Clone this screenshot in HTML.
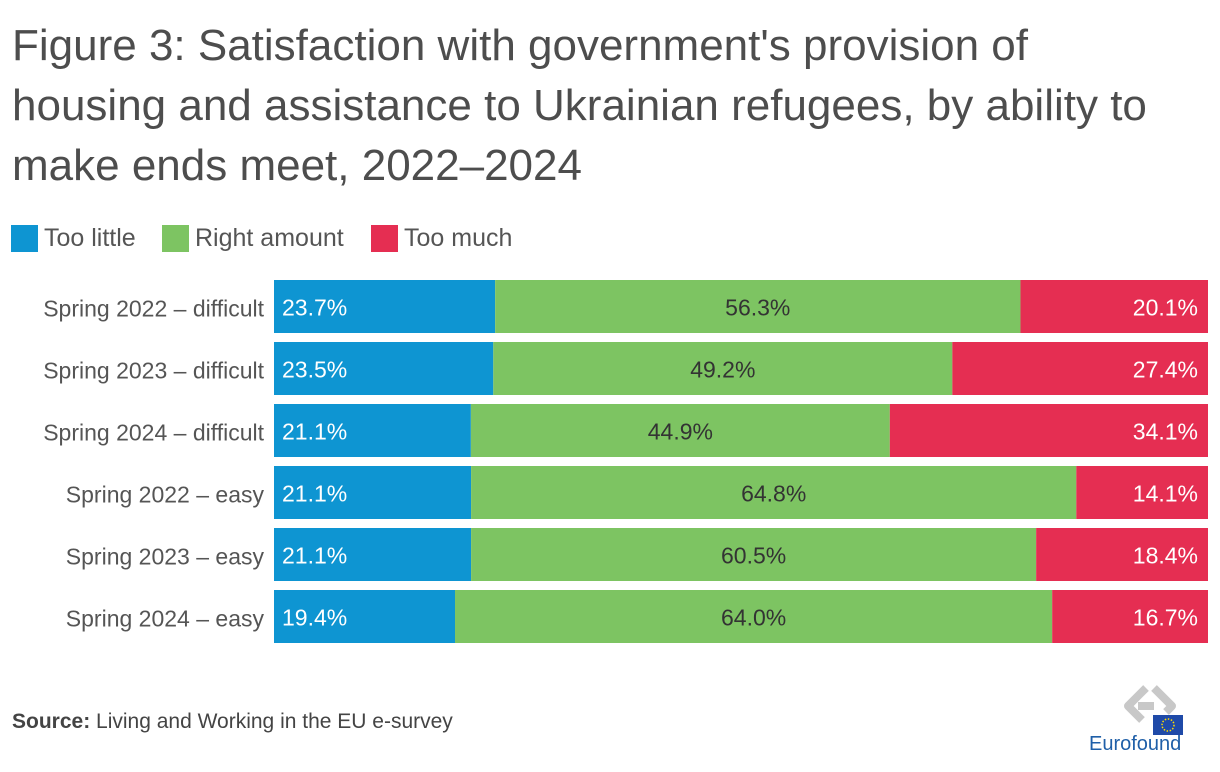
<!DOCTYPE html>
<html><head><meta charset="utf-8"><style>
body{margin:0;width:1220px;height:772px;background:#fff;font-family:"Liberation Sans",sans-serif;overflow:hidden;position:relative}
#title{position:absolute;left:12px;top:16px;font-size:44px;line-height:60px;color:#4d4d4d;letter-spacing:0px;white-space:nowrap}
.leg{position:absolute;top:224px;font-size:25px;color:#555;display:flex;align-items:center}
.leg i{display:inline-block;width:27px;height:27px;margin-right:6px}
#source{position:absolute;left:12px;top:710px;font-size:21px;color:#444}
</style></head><body>
<div id="title">Figure 3: Satisfaction with government's provision of<br>housing and assistance to Ukrainian refugees, by ability to<br>make ends meet, 2022–2024</div>
<div class="leg" style="left:11px"><i style="background:#0e95d2"></i>Too little</div>
<div class="leg" style="left:162px"><i style="background:#7dc462"></i>Right amount</div>
<div class="leg" style="left:371px"><i style="background:#e52e52"></i>Too much</div>
<svg id="chart" width="1220" height="772" style="position:absolute;left:0;top:0"></svg>
<div id="source"><b>Source:</b> Living and Working in the EU e-survey</div>
<svg style="position:absolute;left:1080px;top:680px" width="140" height="92">
<g fill="none" stroke="#c8c8c8" stroke-width="8" stroke-linejoin="round"><path d="M66 8 L48 26 L62 40"/><path d="M74 8 L92 26 L86 32"/><path d="M58 26 L74 26"/></g>
<rect x="73" y="35" width="30" height="20" fill="#1f4aa8"/><circle cx="88" cy="45" r="6" fill="none" stroke="#ffdd00" stroke-width="1.5" stroke-dasharray="1.5 1.6"/>
<text x="9" y="70" font-size="20" fill="#1f5fa8" font-family="Liberation Sans,sans-serif">Eurofound</text></svg>
<script>
const categories=["Spring 2022 – difficult","Spring 2023 – difficult","Spring 2024 – difficult","Spring 2022 – easy","Spring 2023 – easy","Spring 2024 – easy"];
const tooLittle=[23.7,23.5,21.1,21.1,21.1,19.4];
const rightAmount=[56.3,49.2,44.9,64.8,60.5,64.0];
const tooMuch=[20.1,27.4,34.1,14.1,18.4,16.7];
const svg=document.getElementById('chart');const NS='http://www.w3.org/2000/svg';
const x0=274,W=934,y0=280,pitch=62,bh=53;
function xs(v,t){return v/t*W;}
function yb(i){return y0+i*pitch;}
function mk(tag,attrs,txt){const e=document.createElementNS(NS,tag);for(const k in attrs)e.setAttribute(k,attrs[k]);if(txt!==undefined)e.textContent=txt;svg.appendChild(e);return e;}
const series=[[tooLittle,'#0e95d2','too-little'],[rightAmount,'#7dc462','right-amount'],[tooMuch,'#e52e52','too-much']];
categories.forEach((c,i)=>{
  const t=tooLittle[i]+rightAmount[i]+tooMuch[i];
  const lab=mk('text',{x:264,y:yb(i)+bh/2+10,'text-anchor':'end','font-size':23,fill:'#555'},c);
  
  
  let cx=x0;
  series.forEach(([arr,col,nm],s)=>{
    const w=xs(arr[i],t);
    const r=mk('rect',{x:cx,y:yb(i),width:w,height:bh,fill:col});
    
    
    let tx,anc,fc;
    if(s===0){tx=cx+8;anc='start';fc='#fff';}else if(s===1){tx=cx+w/2;anc='middle';fc='#333';}else{tx=cx+w-10;anc='end';fc='#fff';}
    const v=mk('text',{x:tx,y:yb(i)+bh/2+9,'text-anchor':anc,'font-size':23,fill:fc},arr[i].toFixed(1)+'%');
    
    
    cx+=w;
  });
});
</script>
</body></html>
